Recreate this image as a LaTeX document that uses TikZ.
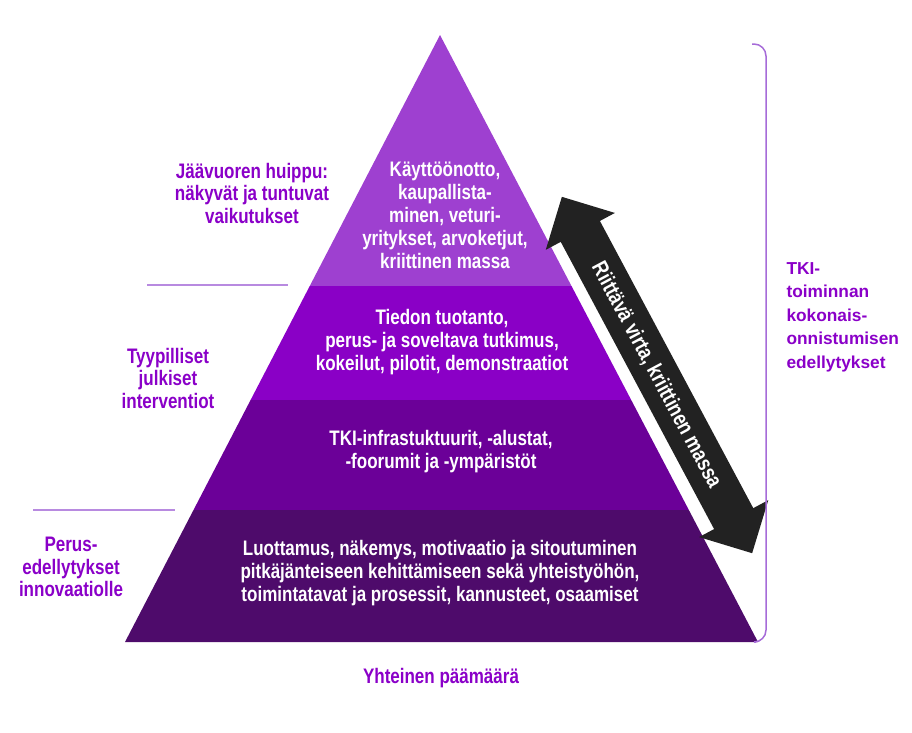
\documentclass[tikz,border=0pt]{standalone}
\usepackage{fontspec}
\setmainfont{Liberation Sans}
\newfontfamily\narrowfont{Liberation Sans}[FakeStretch=0.81]
\usetikzlibrary{shapes.arrows}

\definecolor{bandtop}{HTML}{9E40D0}
\definecolor{bandtwo}{HTML}{8A00C6}
\definecolor{bandthree}{HTML}{6B0098}
\definecolor{bandbase}{HTML}{4E0B6B}
\definecolor{labelpurple}{HTML}{8A00C8}
\definecolor{linepurple}{HTML}{B88AE0}
\definecolor{bracepurple}{HTML}{A66BD8}
\definecolor{arrowblack}{HTML}{222222}

\begin{document}
\begin{tikzpicture}[x=1pt,y=-1pt,
    bandtext/.style={text=white, align=center, font=\narrowfont\bfseries\fontsize{21}{23}\selectfont},
    sidelabel/.style={text=labelpurple, align=center, font=\narrowfont\bfseries\fontsize{21}{22.5}\selectfont},
    divider/.style={draw=linepurple, line width=1.5pt}]
    \useasboundingbox (0,0) rectangle (912,732);

    % pyramid
    \coordinate (apex) at (440,35);
    \coordinate (baseL) at (125,642);
    \coordinate (baseR) at (758,642);
    \begin{scope}
        \clip (apex) -- (baseL) -- (baseR) -- cycle;
        \fill[bandtop] (100,30) rectangle (800,286);
        \fill[bandtwo] (100,286) rectangle (800,400);
        \fill[bandthree] (100,400) rectangle (800,510);
        \fill[bandbase] (100,510) rectangle (800,650);
    \end{scope}

    \node[bandtext] (peak) at (445,215) {Käyttöönotto,\\kaupallista-\\minen, veturi-\\yritykset, arvoketjut,\\kriittinen massa};
    \node[bandtext] (research) at (442,342) {Tiedon tuotanto,\\perus- ja soveltava tutkimus,\\kokeilut, pilotit, demonstraatiot};
    \node[bandtext] (infra) at (441,452) {TKI-infrastuktuurit, -alustat,\\-foorumit ja -ympäristöt};
    \node[bandtext] (trust) at (440,573) {Luottamus, näkemys, motivaatio ja sitoutuminen\\pitkäjänteiseen kehittämiseen sekä yhteistyöhön,\\toimintatavat ja prosessit, kannusteet, osaamiset};

    % labels on the left
    \node[sidelabel] (tip) at (252,193) {Jäävuoren huippu:\\näkyvät ja tuntuvat\\vaikutukset};
    \node[sidelabel] (public) at (168,378) {Tyypilliset\\julkiset\\interventiot};
    \node[sidelabel] (basics) at (71,567) {Perus-\\edellytykset\\innovaatiolle};
    \coordinate (sepA1) at (147,285);
    \coordinate (sepA2) at (288,285);
    \coordinate (sepB1) at (33,510);
    \coordinate (sepB2) at (175,510);
    \draw[divider] (sepA1) -- (sepA2);
    \draw[divider] (sepB1) -- (sepB2);

    \node[sidelabel] (goal) at (441,678) {Yhteinen päämäärä};

    % flow arrow
    \node[double arrow, fill=arrowblack, text=white, rotate=-61.9,
          minimum height=404pt, double arrow head extend=17pt,
          inner xsep=0pt, inner ysep=0pt, text height=29pt, text depth=15pt,
          font=\narrowfont\bfseries\fontsize{22}{24}\selectfont]
          (flow) at (657,375) {Riittävä virta, kriittinen massa};

    % bracket on the right
    \coordinate (braceT) at (752,44);
    \coordinate (braceB) at (756,642);
    \draw[bracepurple, line width=1.5pt, rounded corners=12pt]
        (braceT) -- (766,44) -- (766,642) -- (braceB);
    \node[text=labelpurple, align=left, anchor=west,
          font=\bfseries\fontsize{17.3}{23.5}\selectfont]
          (whole) at (783,317) {TKI-\\toiminnan\\kokonais-\\onnistumisen\\edellytykset};
\end{tikzpicture}
\end{document}
